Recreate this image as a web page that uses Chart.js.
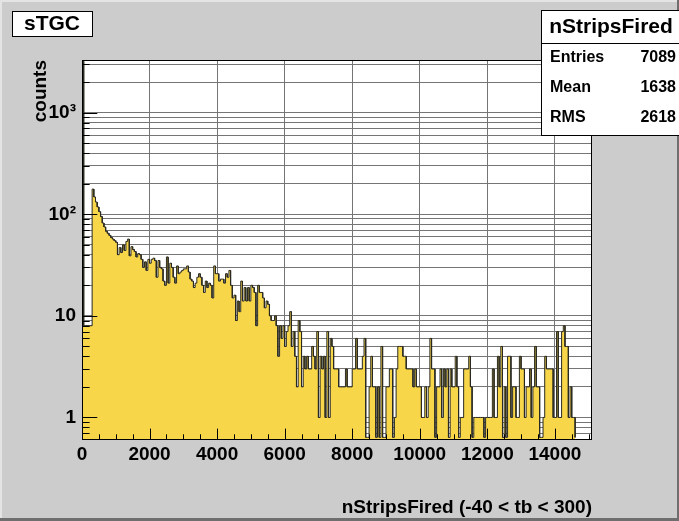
<!DOCTYPE html>
<html>
<head>
<meta charset="utf-8">
<script src="https://cdn.jsdelivr.net/npm/chart.js@4"></script>
<style>
  html, body { margin: 0; padding: 0; background: #cccccc; }
  #wrap { position: relative; width: 679px; height: 521px; }
</style>
</head>
<body>
<div id="wrap"><canvas id="hist" width="679" height="521"></canvas></div>
<script>
// nStripsFired histogram, 50-strip bins starting at 0
const BIN_WIDTH = 50;

// bins 0-49
const countsLow = [
  3200, 8, 8, 8, 8, 8, 177, 148, 132, 118, 106, 95, 82, 75, 68, 65, 62, 59, 57, 55,
  53, 40, 47, 42, 50, 44, 54, 57, 39, 48, 45, 43, 38, 41, 40, 36, 30, 34, 28, 36,
  33, 36, 37, 35, 24, 35, 30, 29, 22, 20
];
// bins 50-99
const countsMid = [
  38, 21, 33, 30, 24, 21, 31, 26, 27, 28, 29, 29, 31, 27, 23, 22, 19, 21, 24, 26,
  24, 20, 17, 22, 19, 21, 20, 15, 31, 26, 26, 22, 23, 23, 21, 26, 24, 28, 20, 15,
  16, 9, 14, 11, 22, 14, 19, 14, 19, 14
];
// bins 100-153
const countsTail = [
  20, 19, 17, 8, 20, 17, 17, 15, 12, 14, 13, 10, 9, 9, 10, 8, 4, 8, 6, 8,
  5, 7, 8, 11, 5, 7, 4, 2, 9, 7, 2, 4, 3, 4, 3, 3, 5, 4, 3, 7,
  1, 4, 3, 4, 1, 7, 1, 6, 5, 3, 3, 3, 2, 2
];
// bins 154-291
const countsSparse = [
  2, 2, 3, 2, 2, 2, 3, 3, 6, 3, 3, 3, 4, 6, 0, 0, 2, 4, 2, 2,
  0, 2, 0, 5, 0, 0, 2, 2, 3, 3, 0, 1, 3, 5, 5, 5, 4, 4, 3, 3,
  3, 3, 2, 3, 2, 2, 2, 1, 1, 2, 1, 2, 6, 3, 3, 0, 2, 2, 3, 1,
  3, 2, 3, 0, 3, 2, 2, 4, 2, 0, 1, 1, 3, 3, 3, 4, 2, 0, 1, 1,
  1, 1, 1, 1, 0, 1, 1, 1, 1, 3, 1, 1, 4, 2, 5, 0, 2, 0, 4, 4,
  1, 2, 2, 1, 1, 4, 3, 3, 1, 2, 2, 3, 1, 2, 5, 2, 2, 0, 0, 1,
  4, 3, 3, 3, 3, 1, 1, 7, 1, 1, 7, 8, 5, 5, 1, 2, 1, 1
];
const counts = [].concat(countsLow, countsMid, countsTail, countsSparse);

const xTickValues = [0, 2000, 4000, 6000, 8000, 10000, 12000, 14000];
const yDecades = [1, 10, 100, 1000];
const yDecadeLabels = ['1', '10', '10²', '10³'];

const histTitle = 'sTGC';
const statsTitle = 'nStripsFired';
const statsNames = ['Entries', 'Mean', 'RMS'];
const statsValues = ['7089', '1638', '2618'];

const X_MAX = 15100;
const Y_MIN = 0.637;
const Y_MAX = 3300;
const FONT = "'Liberation Sans', Arial, Helvetica, sans-serif";

// log tick positions: every n * 10^k inside the frame
const yTickValues = [];
for (const d of [0.1, 1, 10, 100, 1000]) {
  for (let n = 1; n <= 9; n++) {
    const v = +(n * d).toPrecision(3);
    if (v >= Y_MIN && v <= Y_MAX) yTickValues.push(v);
  }
}

// outline of the histogram: flat top for every bin, empty bins sit on the frame floor
const outline = [];
counts.forEach((c, i) => {
  const y = c > 0 ? c : Y_MIN;
  outline.push({ x: i * BIN_WIDTH, y: y }, { x: (i + 1) * BIN_WIDTH, y: y });
});
outline.push({ x: counts.length * BIN_WIDTH, y: Y_MIN });

const rootStyle = {
  id: 'rootStyle',
  beforeDraw(chart) {
    const { ctx, width, height } = chart;
    ctx.save();
    ctx.fillStyle = '#cccccc';
    ctx.fillRect(0, 0, width, height);
    // raised canvas border
    ctx.fillStyle = '#e4e4e4';
    ctx.fillRect(0, 0, width, 2);
    ctx.fillRect(0, 0, 2, height);
    ctx.fillStyle = '#6e6e6e';
    ctx.fillRect(0, height - 3, width, 3);
    ctx.fillRect(width - 2, 0, 2, height);
    // white pad frame
    const a = chart.chartArea;
    ctx.fillStyle = '#ffffff';
    ctx.fillRect(a.left, a.top, a.right - a.left, a.bottom - a.top);
    ctx.restore();
  },
  afterDatasetsDraw(chart) {
    const { ctx, chartArea: a, scales: { x, y } } = chart;
    ctx.save();
    ctx.strokeStyle = '#000000';
    ctx.lineWidth = 1;
    ctx.beginPath();
    // x ticks, pointing up into the frame
    const xLen = 0.03 * (a.bottom - a.top);
    for (let v = 0; v <= X_MAX; v += 500) {
      const px = Math.round(x.getPixelForValue(v)) + 0.5;
      const len = v % 2000 === 0 ? xLen : xLen / 2;
      ctx.moveTo(px, a.bottom);
      ctx.lineTo(px, a.bottom - len);
    }
    // y ticks, pointing right into the frame
    const yLen = 0.03 * (a.right - a.left);
    yTickValues.forEach(v => {
      const py = Math.round(y.getPixelForValue(v)) + 0.5;
      const len = yDecades.includes(v) ? yLen : yLen / 2;
      ctx.moveTo(a.left, py);
      ctx.lineTo(a.left + len, py);
    });
    ctx.stroke();
    ctx.strokeRect(a.left + 0.5, a.top + 0.5, a.right - a.left - 1, a.bottom - a.top - 1);
    ctx.restore();
  },
  afterDraw(chart) {
    const { ctx } = chart;
    ctx.save();
    ctx.lineWidth = 1;
    ctx.strokeStyle = '#000000';
    ctx.fillStyle = '#000000';

    // title pave
    ctx.fillStyle = '#ffffff';
    ctx.fillRect(12, 11, 80, 25);
    ctx.strokeRect(12.5, 11.5, 80, 25);
    ctx.fillStyle = '#000000';
    ctx.font = 'bold 21px ' + FONT;
    ctx.textAlign = 'center';
    ctx.textBaseline = 'middle';
    ctx.fillText(histTitle, 52, 24);

    // statistics box
    const bx = 541, by = 10, bw = 140, bh = 125;
    ctx.fillStyle = '#ffffff';
    ctx.fillRect(bx, by, bw, bh);
    ctx.strokeRect(bx + 0.5, by + 0.5, bw, bh);
    ctx.beginPath();
    ctx.moveTo(bx, by + 33.5);
    ctx.lineTo(bx + bw, by + 33.5);
    ctx.stroke();
    ctx.fillStyle = '#000000';
    ctx.font = 'bold 21px ' + FONT;
    ctx.textAlign = 'center';
    ctx.fillText(statsTitle, 611, 27);
    ctx.font = 'bold 16px ' + FONT;
    statsNames.forEach((name, i) => {
      const ty = 58 + i * 30;
      ctx.textAlign = 'left';
      ctx.fillText(name, 550, ty);
      ctx.textAlign = 'right';
      ctx.fillText(statsValues[i], 676, ty);
    });
    ctx.restore();
  }
};

new Chart(document.getElementById('hist'), {
  type: 'line',
  data: {
    datasets: [{
      data: outline,
      borderColor: '#2a2a22',
      borderWidth: 1,
      backgroundColor: '#f7d64a',
      fill: 'start',
      pointRadius: 0,
      tension: 0
    }]
  },
  options: {
    responsive: false,
    devicePixelRatio: 1,
    animation: false,
    layout: { padding: { left: 0, right: 87, top: 60, bottom: 0 } },
    plugins: { legend: { display: false }, tooltip: { enabled: false } },
    scales: {
      x: {
        type: 'linear',
        min: 0,
        max: X_MAX,
        afterFit: s => { s.height = 81; },
        afterBuildTicks: s => { s.ticks = xTickValues.map(v => ({ value: v })); },
        grid: { color: '#757575', lineWidth: 1, drawTicks: false },
        border: { display: false },
        ticks: {
          autoSkip: false,
          maxRotation: 0,
          padding: 3,
          color: '#000000',
          font: { family: FONT, size: 19, weight: 'bold' },
          callback: v => String(v)
        },
        title: {
          display: true,
          text: 'nStripsFired (-40 < tb < 300)',
          align: 'end',
          color: '#000000',
          font: { family: FONT, size: 19, weight: 'bold' },
          padding: { top: 0, bottom: 2 }
        }
      },
      y: {
        type: 'logarithmic',
        min: Y_MIN,
        max: Y_MAX,
        afterFit: s => { s.width = 82; },
        afterBuildTicks: s => { s.ticks = yTickValues.map(v => ({ value: v })); },
        grid: { color: '#757575', lineWidth: 1, drawTicks: false },
        border: { display: false },
        ticks: {
          autoSkip: false,
          padding: 6,
          color: '#000000',
          font: { family: FONT, size: 19, weight: 'bold' },
          callback: v => {
            const k = yDecades.indexOf(v);
            return k >= 0 ? yDecadeLabels[k] : '';
          }
        },
        title: {
          display: true,
          text: 'counts',
          align: 'end',
          color: '#000000',
          font: { family: FONT, size: 19, weight: 'bold' },
          padding: { top: 29, bottom: 0 }
        }
      }
    }
  },
  plugins: [rootStyle]
});
</script>
</body>
</html>
